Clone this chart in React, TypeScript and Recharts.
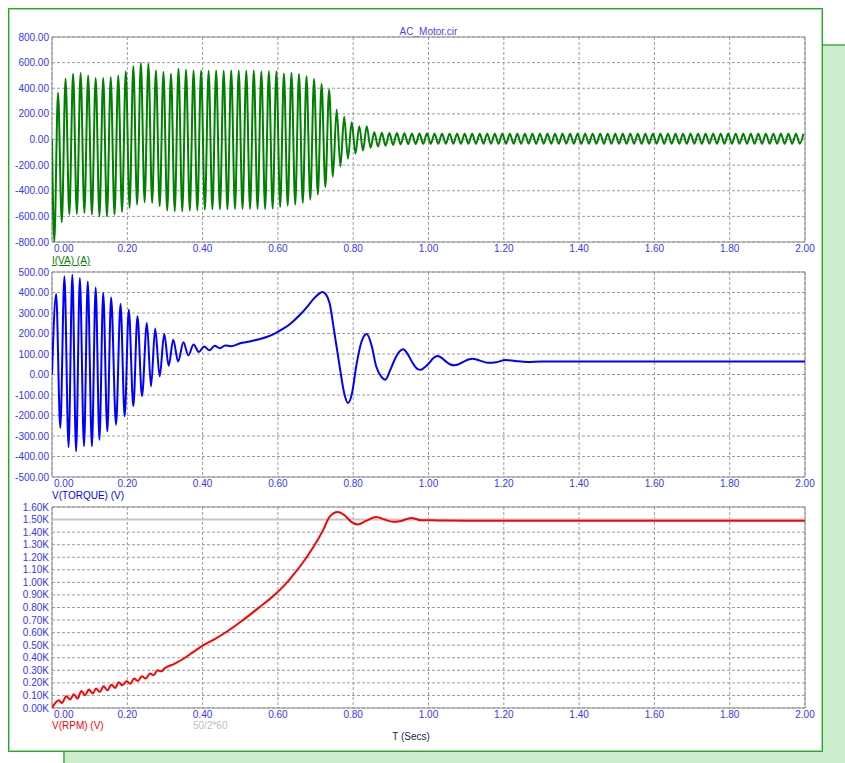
import React from "react";
import { LineChart, Line, XAxis, YAxis, CartesianGrid, ReferenceArea } from "recharts";

// shared time axis (seconds)
const timeTicks = [0, 0.2, 0.4, 0.6, 0.8, 1.0, 1.2, 1.4, 1.6, 1.8, 2.0];

// I(VA): supply current, one trough and one peak per 50 Hz cycle
const cyclePeriod = 0.02;
const troughOffset = 0.006;
const peakOffset = 0.016;

const currentPeaks = [
  364, 475, 514, 519, 499, 480, 480, 486, 499, 532,
  571, 597, 592, 538, 527, 514, 553, 545, 538, 538,
  536, 538, 536, 538, 538, 536, 538, 530, 533, 533,
  515, 520, 512, 494, 473, 434, 390, 234, 177, 135,
  104, 104, 57, 52, 50, 50, 48, 47, 46, 46,
  45, 44, 45, 44, 45, 44, 44, 45, 44, 45,
  44, 45, 44, 44, 45, 44, 45, 44, 44, 45,
  44, 45, 44, 45, 44, 44, 45, 44, 45, 44,
  44, 45, 44, 45, 44, 45, 44, 44, 45, 44,
  45, 44, 44, 45, 44, 45, 44, 45, 44, 44,
];

const currentTroughs = [
  -800, -646, -586, -581, -573, -586, -599, -599, -586, -565,
  -534, -508, -490, -495, -521, -555, -560, -560, -555, -552,
  -547, -545, -545, -545, -542, -542, -542, -542, -542, -540,
  -526, -516, -508, -495, -470, -430, -370, -290, -210, -150,
  -110, -85, -65, -55, -48, -42, -38, -36, -35, -34,
  -33, -34, -33, -33, -34, -33, -34, -33, -33, -34,
  -33, -33, -34, -33, -34, -33, -33, -34, -33, -33,
  -34, -33, -33, -34, -33, -34, -33, -33, -34, -33,
  -33, -34, -33, -33, -34, -33, -34, -33, -33, -34,
  -33, -33, -34, -33, -34, -33, -33, -34, -33, -33,
];

const currentTicks = [-800, -600, -400, -200, 0, 200, 400, 600, 800];

// V(TORQUE): [time, value]
const torquePoints: [number, number][] = [
  [0, 0],
  [0.011, 393], [0.022, -261], [0.033, 479], [0.044, -355], [0.054, 487], [0.064, -375],
  [0.074, 471], [0.085, -350], [0.095, 454], [0.106, -350], [0.116, 425], [0.126, -318],
  [0.136, 398], [0.147, -277], [0.157, 376], [0.17, -245], [0.182, 344], [0.193, -204],
  [0.204, 316], [0.216, -155], [0.227, 284], [0.239, -106], [0.252, 251], [0.263, -58],
  [0.274, 224], [0.286, -9], [0.298, 198], [0.31, 43], [0.322, 170], [0.335, 64],
  [0.349, 157], [0.362, 93], [0.376, 146], [0.39, 110], [0.404, 137], [0.418, 118],
  [0.432, 140], [0.446, 128], [0.46, 142], [0.475, 138], [0.5, 152], [0.525, 161],
  [0.55, 172], [0.57, 183], [0.59, 198], [0.605, 214], [0.63, 243], [0.658, 290],
  [0.68, 335], [0.693, 365], [0.708, 392], [0.718, 402], [0.728, 390], [0.737, 350],
  [0.75, 205], [0.764, 40], [0.776, -90], [0.786, -139], [0.797, -90], [0.808, 40],
  [0.822, 160], [0.836, 198], [0.849, 140], [0.861, 40], [0.875, -12], [0.885, -26],
  [0.898, 20], [0.91, 72], [0.922, 110], [0.933, 123], [0.946, 95], [0.958, 56],
  [0.97, 28], [0.98, 23], [0.99, 35], [1.002, 56], [1.013, 80], [1.024, 90],
  [1.036, 80], [1.046, 64], [1.058, 49], [1.07, 45], [1.082, 52], [1.095, 64],
  [1.106, 73], [1.117, 77], [1.135, 69], [1.157, 57], [1.18, 60], [1.205, 71],
  [1.23, 66], [1.262, 61], [1.3, 63], [1.45, 64], [2.0, 63],
];

const torqueTicks = [-500, -400, -300, -200, -100, 0, 100, 200, 300, 400, 500];

// V(RPM): [time, value]
const rpmPoints: [number, number][] = [
  [0, 0], [0.018, 61], [0.026, 40], [0.038, 93], [0.048, 67], [0.058, 109], [0.068, 75],
  [0.078, 136], [0.088, 101], [0.098, 147], [0.108, 115], [0.117, 155], [0.127, 128],
  [0.137, 173], [0.147, 141], [0.158, 186], [0.168, 160], [0.177, 205], [0.187, 181],
  [0.198, 213], [0.208, 194], [0.218, 234], [0.228, 215], [0.239, 253], [0.249, 234],
  [0.26, 274], [0.27, 261], [0.28, 300], [0.29, 292], [0.3, 318], [0.325, 352],
  [0.349, 392], [0.374, 443], [0.4, 497], [0.43, 545], [0.464, 607], [0.503, 690],
  [0.552, 805], [0.587, 890], [0.622, 992], [0.645, 1075], [0.667, 1160], [0.693, 1275],
  [0.72, 1416], [0.737, 1521], [0.759, 1560], [0.777, 1534], [0.795, 1482], [0.812, 1461],
  [0.834, 1489], [0.861, 1521], [0.883, 1500], [0.905, 1482], [0.927, 1489], [0.954, 1513],
  [0.98, 1495], [1.011, 1495], [1.037, 1492], [1.1, 1491], [2.0, 1491],
];

// 50/2*60 synchronous speed
const syncRpmPoints: [number, number][] = [[0, 1500], [2, 1500]];

const rpmTicks = [
  0, 100, 200, 300, 400, 500, 600, 700, 800, 900, 1000, 1100, 1200, 1300, 1400, 1500, 1600,
];

type Row = { t: number; v: number };

const toRows = (pts: [number, number][]): Row[] => pts.map(([t, v]) => ({ t, v }));

const currentData: Row[] = [{ t: 0, v: 0 }];
currentPeaks.forEach((p, k) => {
  currentData.push({ t: k * cyclePeriod + troughOffset, v: currentTroughs[k] });
  currentData.push({ t: k * cyclePeriod + peakOffset, v: p });
});

const torqueData = toRows(torquePoints);
const rpmData = toRows(rpmPoints);
const syncData = toRows(syncRpmPoints);

const FONT = '"Liberation Sans", Arial, sans-serif';
const axisBlue = "#3535ff";
const CHART_W = 815;

const TimeTick = (props: any) => {
  const { x, y, payload } = props;
  const first = payload.value === 0;
  return (
    <text
      x={first ? x + 2 : x}
      y={y}
      dy="0.71em"
      textAnchor={first ? "start" : "middle"}
      fill={axisBlue}
      fontSize={10}
    >
      {Number(payload.value).toFixed(2)}
    </text>
  );
};

type PanelProps = {
  top: number;
  marginTop: number;
  plotHeight: number;
  domain: [number, number];
  ticks: number[];
  yFormat: (v: number) => string;
  children: React.ReactNode;
};

const Panel = ({ top, marginTop, plotHeight, domain, ticks, yFormat, children }: PanelProps) => (
  <div style={{ position: "absolute", left: 0, top }}>
    <LineChart
      width={CHART_W}
      height={marginTop + plotHeight + 20}
      margin={{ top: marginTop, right: 18, bottom: 0, left: 0 }}
    >
      <CartesianGrid stroke="#9c9c9c" strokeDasharray="3 2" />
      <XAxis
        type="number"
        dataKey="t"
        domain={[0, 2]}
        ticks={timeTicks}
        interval={0}
        allowDataOverflow
        axisLine={false}
        tickLine={false}
        tickSize={0}
        tickMargin={3}
        height={20}
        tick={(p: any) => <TimeTick {...p} />}
      />
      <YAxis
        type="number"
        domain={domain}
        ticks={ticks}
        interval={0}
        allowDataOverflow
        width={44}
        axisLine={false}
        tickLine={false}
        tickSize={0}
        tickMargin={3}
        tickFormatter={yFormat}
        tick={{ fill: axisBlue, fontSize: 10 }}
      />
      <ReferenceArea
        x1={0}
        x2={2}
        y1={domain[0]}
        y2={domain[1]}
        fill="none"
        stroke="#8e8e8e"
        ifOverflow="visible"
      />
      {children}
    </LineChart>
  </div>
);

const labelStyle: React.CSSProperties = {
  position: "absolute",
  fontSize: 10,
  lineHeight: "12px",
  whiteSpace: "nowrap",
};

const App = () => {
  return (
    <div style={{ position: "relative", width: CHART_W, height: 744, fontFamily: FONT }}>
      {/* green panel behind the plot window */}
      <div
        style={{
          position: "fixed",
          left: 63,
          top: 44,
          right: 0,
          bottom: 0,
          background: "#cdebcd",
          borderTop: "2px solid #66bf66",
          borderLeft: "2px solid #66bf66",
        }}
      />
      <div
        style={{
          position: "absolute",
          left: 0,
          top: 0,
          width: CHART_W,
          height: 744,
          boxSizing: "border-box",
          background: "#ffffff",
          border: "1px solid #2aa52a",
          boxShadow: "inset 0 0 0 1px #9ddc9d",
        }}
      />

      <div style={{ ...labelStyle, left: 420.5, top: 18, transform: "translateX(-50%)", color: "#4646ff" }}>
        AC_Motor.cir
      </div>

      <Panel
        top={0}
        marginTop={29}
        plotHeight={205}
        domain={[-800, 800]}
        ticks={currentTicks}
        yFormat={(v) => v.toFixed(2)}
      >
        <Line
          data={currentData}
          dataKey="v"
          type="monotone"
          stroke="#008000"
          strokeWidth={2}
          dot={false}
          isAnimationActive={false}
        />
      </Panel>
      <div style={{ ...labelStyle, left: 44, top: 247, color: "#008000", textDecoration: "underline" }}>
        I(VA) (A)
      </div>

      <Panel
        top={256}
        marginTop={8}
        plotHeight={205}
        domain={[-500, 500]}
        ticks={torqueTicks}
        yFormat={(v) => v.toFixed(2)}
      >
        <Line
          data={torqueData}
          dataKey="v"
          type="monotone"
          stroke="#0000ff"
          strokeWidth={2}
          dot={false}
          isAnimationActive={false}
        />
      </Panel>
      <div style={{ ...labelStyle, left: 44, top: 482, color: "#0000ff" }}>V(TORQUE) (V)</div>

      <Panel
        top={491}
        marginTop={8}
        plotHeight={201}
        domain={[0, 1600]}
        ticks={rpmTicks}
        yFormat={(v) => (v / 1000).toFixed(2) + "K"}
      >
        <Line
          data={syncData}
          dataKey="v"
          type="linear"
          stroke="#c8c8c8"
          strokeWidth={2}
          dot={false}
          isAnimationActive={false}
        />
        <Line
          data={rpmData}
          dataKey="v"
          type="monotone"
          stroke="#ff0000"
          strokeWidth={2}
          dot={false}
          isAnimationActive={false}
        />
      </Panel>
      <div style={{ ...labelStyle, left: 44, top: 712, color: "#ff0000" }}>V(RPM) (V)</div>
      <div style={{ ...labelStyle, left: 185, top: 712, color: "#c0c0c0" }}>50/2*60</div>
      <div style={{ ...labelStyle, left: 403, top: 723, transform: "translateX(-50%)", color: "#202060" }}>
        T (Secs)
      </div>
    </div>
  );
};

export default App;
